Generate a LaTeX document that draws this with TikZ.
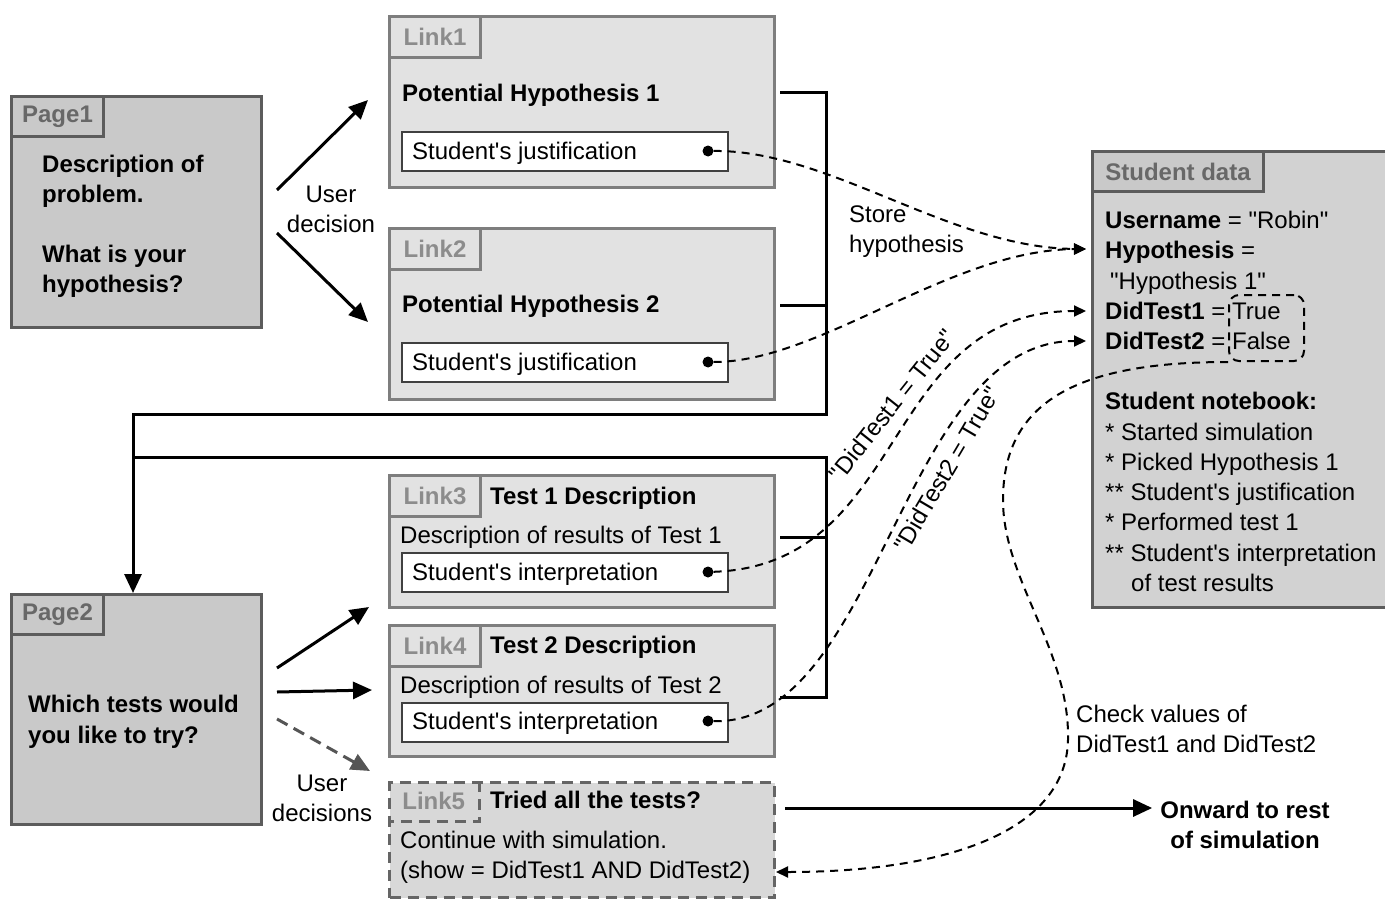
\documentclass[tikz,border=0pt]{standalone}
\usepackage{fontspec}
\setmainfont{Liberation Sans}[Ligatures=TeXOff]
\usetikzlibrary{arrows.meta,calc}
\definecolor{pagefill}{HTML}{C9C9C9}
\definecolor{pageedge}{HTML}{5C5C5C}
\definecolor{linkfill}{HTML}{E2E2E2}
\definecolor{linkedge}{HTML}{7E7E7E}
\definecolor{tabpage}{HTML}{686868}
\definecolor{tablink}{HTML}{8C8C8C}
\definecolor{datafill}{HTML}{D2D2D2}
\definecolor{lfivefill}{HTML}{D8D8D8}
\definecolor{grayarrow}{HTML}{555555}
\begin{document}
\begin{tikzpicture}[x=1pt,y=-1pt,
  every node/.style={font=\fontsize{24}{30}\selectfont, inner sep=0pt},
  pagebox/.style={draw=pageedge, line width=3pt, fill=pagefill, anchor=north west},
  linkbox/.style={draw=linkedge, line width=3pt, fill=linkfill, anchor=north west},
  pagetab/.style={draw=pageedge, line width=3pt, fill=pagefill, anchor=north west, minimum width=92pt, minimum height=40pt, text=tabpage, font=\fontsize{24}{28}\selectfont\bfseries},
  linktab/.style={draw=linkedge, line width=3pt, fill=linkfill, anchor=north west, minimum width=91pt, minimum height=41pt, text=tablink, font=\fontsize{24}{28}\selectfont\bfseries},
  field/.style={draw=black!75, line width=1.5pt, fill=white, anchor=north west, minimum width=326pt, minimum height=39pt},
  txt/.style={anchor=base west},
  btxt/.style={anchor=base west, font=\fontsize{24}{30}\selectfont\bfseries},
  multi/.style={anchor=north west, align=left},
  dotmark/.style={circle, fill=black, minimum size=11pt},
  conn/.style={line width=3pt},
  arr/.style={line width=3pt, -{Triangle[length=19pt,width=17pt]}},
  dconn/.style={line width=2pt, dash pattern=on 8pt off 6pt},
  darr/.style={dconn, -{Triangle[length=12pt,width=11pt]}},
]
\useasboundingbox (0,0) rectangle (1385,899);

% ---------- Page1 ----------
\node[pagebox, minimum width=250pt, minimum height=231pt] (p1) at (10,95) {};
\node[pagetab] (p1t) at (10,95) {Page1};
\node[multi, font=\fontsize{24}{30}\selectfont\bfseries] (p1x) at (42,155)
  {Description of\\problem.\\[30pt]What is your\\hypothesis?};

% ---------- Link1 ----------
\node[linkbox, minimum width=385pt, minimum height=171pt] (l1) at (388,15) {};
\node[linktab] (l1t) at (388,15) {Link1};
\node[btxt] (l1h) at (402,101.5) {Potential Hypothesis 1};
\node[field] (l1f) at (401,131) {};
\node[txt] (l1s) at (412,159.5) {Student's justification};

% ---------- Link2 ----------
\node[linkbox, minimum width=385pt, minimum height=171pt] (l2) at (388,227) {};
\node[linktab] (l2t) at (388,227) {Link2};
\node[btxt] (l2h) at (402,312.5) {Potential Hypothesis 2};
\node[field] (l2f) at (401,342) {};
\node[txt] (l2s) at (412,370.5) {Student's justification};

% ---------- Page2 ----------
\node[pagebox, minimum width=250pt, minimum height=230pt] (p2) at (10,593) {};
\node[pagetab] (p2t) at (10,593) {Page2};
\node[multi, font=\fontsize{24}{31}\selectfont\bfseries] (p2x) at (28,694.5)
  {Which tests would\\you like to try?};

% ---------- Link3 ----------
\node[linkbox, minimum width=385pt, minimum height=132pt] (l3) at (388,474) {};
\node[linktab] (l3t) at (388,474) {Link3};
\node[btxt] (l3h) at (490,504.5) {Test 1 Description};
\node[txt] (l3d) at (400,543.5) {Description of results of Test 1};
\node[field] (l3f) at (401,552) {};
\node[txt] (l3s) at (412,580.5) {Student's interpretation};

% ---------- Link4 ----------
\node[linkbox, minimum width=385pt, minimum height=131pt] (l4) at (388,624) {};
\node[linktab] (l4t) at (388,624) {Link4};
\node[btxt] (l4h) at (490,653.5) {Test 2 Description};
\node[txt] (l4d) at (400,693.5) {Description of results of Test 2};
\node[field] (l4f) at (401,702) {};
\node[txt] (l4s) at (412,729.5) {Student's interpretation};

% ---------- Link5 (dashed) ----------
\node[draw=linkedge!80!black, line width=3pt, dash pattern=on 11pt off 7pt, fill=lfivefill,
      anchor=north west, minimum width=385pt, minimum height=115pt] (l5) at (388,781) {};
\node[anchor=north west, minimum width=91pt, minimum height=40pt, text=tablink,
      font=\fontsize{24}{28}\selectfont\bfseries] (l5t) at (388,781) {Link5};
\draw[draw=linkedge!80!black, line width=3pt, dash pattern=on 11pt off 7pt]
  (l5t.north east) -- (l5t.south east) -- (l5t.south west);
\node[btxt] (l5h) at (490,808.5) {Tried all the tests?};
\node[txt] (l5a) at (400,848.5) {Continue with simulation.};
\node[txt] (l5b) at (400,878.5) {(show = DidTest1 AND DidTest2)};

% ---------- Student data ----------
\node[pagebox, fill=datafill, minimum width=300pt, minimum height=456pt] (sd) at (1091,150) {};
\node[pagetab, minimum width=171pt, text=tabpage] (sdt) at (1091,150) {Student data};
\node[multi, font=\fontsize{24}{30.25}\selectfont] (sdx) at (1105,211)
  {\textbf{Username} = "Robin"\\
   \textbf{Hypothesis} =\\
   \hspace*{5pt}"Hypothesis 1"\\
   \textbf{DidTest1} = True\\
   \textbf{DidTest2} = False\\[30pt]
   \textbf{Student notebook:}\\
   * Started simulation\\
   * Picked Hypothesis 1\\
   ** Student's justification\\
   * Performed test 1\\
   ** Student's interpretation\\
   \hspace*{26pt}of test results};
\node[draw, dconn, rounded corners=10pt, anchor=north west, minimum width=75pt, minimum height=66pt] (tf) at (1228,294) {};

% ---------- free-standing labels ----------
\node[align=center, anchor=north] (ud1) at (331,186) {User\\decision};
\node[align=center, anchor=north] (ud2) at (322,775) {User\\decisions};
\node[multi] (store) at (849,206) {Store\\hypothesis};
\node[multi] (check) at (1076,705) {Check values of\\DidTest1 and DidTest2};
\node[align=center, anchor=north, font=\fontsize{24}{30}\selectfont\bfseries] (onw) at (1245,801) {Onward to rest\\of simulation};
\node[rotate=51.5] (lab1) at (892,405) {"DidTest1 = True"};
\node[rotate=59.5] (lab2) at (947,469) {"DidTest2 = True"};

% ---------- coordinates ----------
\coordinate (a1s) at (277,190); \coordinate (a1e) at (368,100);
\coordinate (a2s) at (277,233); \coordinate (a2e) at (368,322);
\coordinate (b1s) at (277,668); \coordinate (b1e) at (369,607);
\coordinate (b2s) at (277,692); \coordinate (b2e) at (372,690);
\coordinate (b3s) at (277,719); \coordinate (b3e) at (370,771);
\coordinate (h1) at (780,93);  \coordinate (h2) at (780,305);
\coordinate (v1t) at (826,93); \coordinate (v1m) at (826,305); \coordinate (v1b) at (826,414);
\coordinate (turn) at (133,414);
\coordinate (h3) at (780,537); \coordinate (h4) at (780,697);
\coordinate (v2t) at (826,457); \coordinate (v2m) at (826,537); \coordinate (v2b) at (826,697);
\coordinate (turn2) at (133,457);
\coordinate (sdin1) at (1086,249); \coordinate (sdin2) at (1086,311); \coordinate (sdin3) at (1086,341);
\coordinate (o1) at (785,808);
\coordinate (l5in) at (776,872);
\coordinate (c1) at (1003,500); \coordinate (c2) at (1068,740);

% ---------- solid connectors ----------
\draw[arr] (a1s) -- (a1e);
\draw[arr] (a2s) -- (a2e);
\draw[arr] (b1s) -- (b1e);
\draw[arr] (b2s) -- (b2e);
\draw[line width=3pt, grayarrow, dash pattern=on 12pt off 7pt, -{Triangle[length=19pt,width=17pt]}] (b3s) -- (b3e);
\draw[arr] (h1) -- (v1t) -- (v1b) -- (turn) -- (turn |- p2.north);
\draw[conn] (h2) -- (v1m);
\draw[conn] (h4) -- (v2b) -- (v2t) -- (turn2);
\draw[conn] (h3) -- (v2m);
\draw[arr, shorten >=8pt] (o1) -- (o1 -| onw.west);

% ---------- dashed connectors ----------
\node[dotmark] (d1) at (708,151) {};
\node[dotmark] (d2) at (708,362) {};
\node[dotmark] (d3) at (708,572) {};
\node[dotmark] (d4) at (708,721) {};
\draw[darr] (d1) .. controls (830,150) and (950,248) .. (sdin1);
\draw[darr] (d2) .. controls (820,362) and (950,250) .. (sdin1);
\draw[darr] (d3) .. controls (910,565) and (880,311) .. (sdin2);
\draw[darr] (d4) .. controls (880,725) and (900,341) .. (sdin3);
\draw[darr] (tf.south west) .. controls (1080,362) and (1003,400) .. (c1)
  .. controls (1003,580) and (1070,650) .. (c2)
  .. controls (1066,830) and (950,872) .. (l5in);
\end{tikzpicture}
\end{document}
